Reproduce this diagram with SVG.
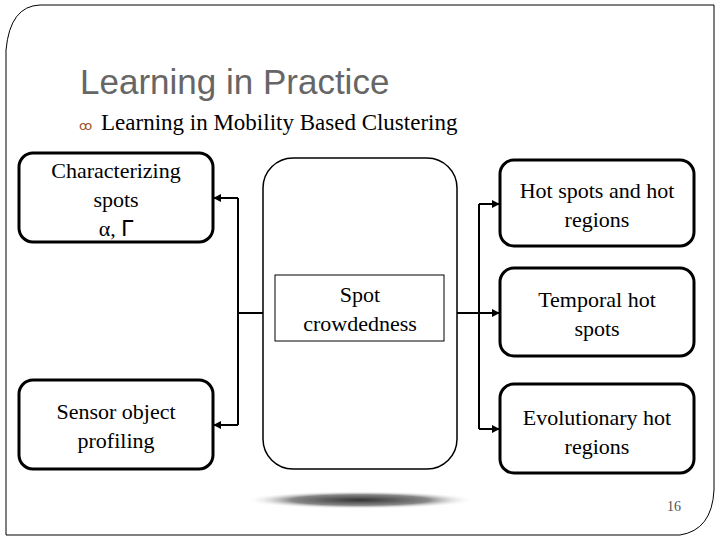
<svg xmlns="http://www.w3.org/2000/svg" width="720" height="540" viewBox="0 0 720 540">
<defs>
<style>
.b{fill:#fff;stroke:#000;stroke-width:3}
.t{font-family:'Times New Roman','Liberation Serif','DejaVu Serif',serif;font-size:22px;text-anchor:middle;fill:#000}
.c{fill:none;stroke:#000;stroke-width:2}
</style>
<marker id="a" viewBox="0 0 10 10" refX="9" refY="5" markerWidth="4" markerHeight="4" orient="auto"><path d="M0,0L10,5L0,10z" fill="#000"/></marker>
<radialGradient id="s" cx="0.5" cy="0.5" r="0.5"><stop offset="0" stop-color="#333"/><stop offset="0.6" stop-color="#888"/><stop offset="1" stop-color="#fff" stop-opacity="0"/></radialGradient>
</defs>
<rect width="720" height="540" fill="#fff"/>
<path d="M6,535V50Q10,6 40,5H714V490Q712,530 680,535Z" fill="none" stroke="#000" stroke-width="1"/>
<text x="80" y="94" font-family="Liberation Sans,sans-serif" font-size="35" fill="#666">Learning in Practice</text>
<text x="79" y="130" font-family="DejaVu Sans,sans-serif" font-size="13" fill="#a0522d">ꝏ</text>
<text x="101" y="130" style="font-family:'Times New Roman','Liberation Serif','DejaVu Serif',serif;font-size:23px" fill="#000">Learning in Mobility Based Clustering</text>
<ellipse cx="360" cy="500" rx="115" ry="9" fill="url(#s)"/>
<g id="connectors">
<path class="c" d="M263,313H238"/>
<path class="c" d="M238,198V425"/>
<path class="c" d="M238,198H214" marker-end="url(#a)"/>
<path class="c" d="M238,425H214" marker-end="url(#a)"/>
<path class="c" d="M457,313H499" marker-end="url(#a)"/>
<path class="c" d="M479,204V429"/>
<path class="c" d="M479,204H499" marker-end="url(#a)"/>
<path class="c" d="M479,429H499" marker-end="url(#a)"/>
</g>
<g id="center"><rect x="263" y="158" width="194" height="311" rx="30" fill="#fff" stroke="#000" stroke-width="1.5"/>
<rect x="275" y="275" width="169" height="66" fill="#fff" stroke="#000" stroke-width="1"/>
<text class="t" x="360" y="302">Spot</text><text class="t" x="360" y="331">crowdedness</text></g>
<g id="char"><rect class="b" x="19" y="153" width="194" height="89" rx="14"/>
<text class="t" x="116" y="178">Characterizing</text><text class="t" x="116" y="207">spots</text><text class="t" x="116" y="236">α, ᒥ</text></g>
<g id="sensor"><rect class="b" x="19" y="380" width="194" height="89" rx="14"/>
<text class="t" x="116" y="419">Sensor object</text><text class="t" x="116" y="448">profiling</text></g>
<g id="hot"><rect class="b" x="500" y="160" width="194" height="86" rx="14"/>
<text class="t" x="597" y="198">Hot spots and hot</text><text class="t" x="597" y="227">regions</text></g>
<g id="temporal"><rect class="b" x="500" y="268" width="194" height="88" rx="14"/>
<text class="t" x="597" y="307">Temporal hot</text><text class="t" x="597" y="336">spots</text></g>
<g id="evo"><rect class="b" x="500" y="384" width="194" height="89" rx="14"/>
<text class="t" x="597" y="425">Evolutionary hot</text><text class="t" x="597" y="454">regions</text></g>
<text x="674" y="511" style="font-family:'Times New Roman','Liberation Serif',serif;font-size:14px" text-anchor="middle" fill="#555">16</text>
</svg>
